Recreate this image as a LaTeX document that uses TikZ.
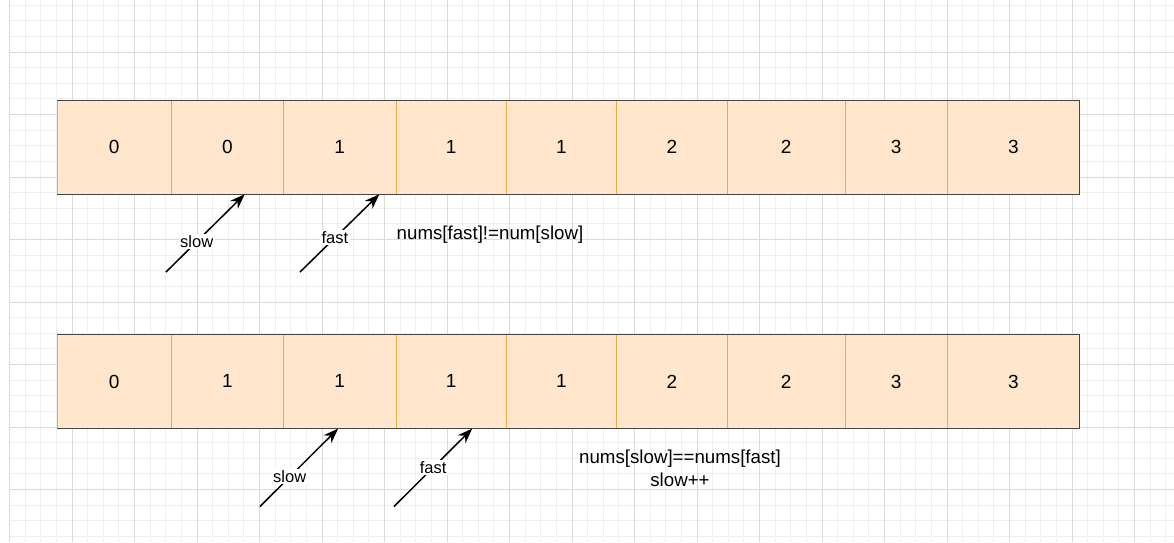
\documentclass[tikz,border=0pt]{standalone}
\usepackage{fontspec}
\setmainfont{Liberation Sans}
\usetikzlibrary{positioning, arrows.meta}

\definecolor{cellfill}{HTML}{FFE6CC}
\definecolor{celledge}{HTML}{E9B040}
\definecolor{frameedge}{HTML}{454545}
\definecolor{gridminor}{HTML}{EFEFEF}
\definecolor{gridmajor}{HTML}{DADADA}

\begin{document}
\begin{tikzpicture}[
  x=1pt, y=-1pt,
  cell/.style={rectangle, draw=celledge, fill=cellfill, line width=1pt,
    minimum height=94.3pt, inner sep=0pt, outer sep=0pt,
    font=\fontsize{19}{22}\selectfont},
  ptr/.style={-{Stealth[length=15pt, width=11pt]}, line width=1.5pt},
  ptrlabel/.style={fill=white, inner sep=1.5pt, font=\fontsize{16.5}{20}\selectfont},
  note/.style={align=center, font=\fontsize{18.7}{23}\selectfont},
  node distance=0pt
]
\fill[white] (0,0) rectangle (1174,542);
\useasboundingbox (0,0) rectangle (1174,542);

% background grid
\foreach \gx in {0,...,74}
  \draw[gridminor, line width=0.8pt] ({9.5+15.625*\gx},0) -- ({9.5+15.625*\gx},542);
\foreach \gy in {0,...,34}
  \draw[gridminor, line width=0.8pt] (9.5,{5.125+15.625*\gy}) -- (1174,{5.125+15.625*\gy});
\foreach \gx in {0,...,18}
  \draw[gridmajor, line width=0.8pt] ({9.5+62.5*\gx},0) -- ({9.5+62.5*\gx},542);
\foreach \gy in {0,...,7}
  \draw[gridmajor, line width=0.8pt] (9.5,{52+62.5*\gy}) -- (1174,{52+62.5*\gy});

% first array
\node[cell, minimum width=114.5pt, anchor=north west] (a1) at (57,100) {0};
\node[cell, minimum width=112pt, right=of a1] (a2) {0};
\node[cell, minimum width=112.5pt, right=of a2] (a3) {1};
\node[cell, minimum width=110.5pt, right=of a3] (a4) {1};
\node[cell, minimum width=110pt, right=of a4] (a5) {1};
\node[cell, minimum width=111pt, right=of a5] (a6) {2};
\node[cell, minimum width=117.5pt, right=of a6] (a7) {2};
\node[cell, minimum width=102.5pt, right=of a7] (a8) {3};
\node[cell, minimum width=131.8pt, right=of a8] (a9) {3};
\draw[frameedge, line width=1pt] (a1.north west) -- (a9.north east)
  -- (a9.south east) -- (a1.south west);

% second array
\node[cell, minimum width=114.5pt, below=140pt of a1] (b1) {0};
\node[cell, minimum width=112pt, right=of b1] (b2) {1};
\node[cell, minimum width=112.5pt, right=of b2] (b3) {1};
\node[cell, minimum width=110.5pt, right=of b3] (b4) {1};
\node[cell, minimum width=110pt, right=of b4] (b5) {1};
\node[cell, minimum width=111pt, right=of b5] (b6) {2};
\node[cell, minimum width=117.5pt, right=of b6] (b7) {2};
\node[cell, minimum width=102.5pt, right=of b7] (b8) {3};
\node[cell, minimum width=131.8pt, right=of b8] (b9) {3};
\draw[frameedge, line width=1pt] (b1.north west) -- (b9.north east)
  -- (b9.south east) -- (b1.south west);

% pointers
\coordinate (slowtail1) at (166,272);
\coordinate (fasttail1) at (300,272);
\coordinate (slowtail2) at (260,506.5);
\coordinate (fasttail2) at (394,506.5);

\draw[ptr] (slowtail1) -- node[ptrlabel, pos=0.39] (slowlbl1) {slow} (a2.-70.7);
\draw[ptr] (fasttail1) -- node[ptrlabel, pos=0.44] (fastlbl1) {fast} (a3.-50.9);
\draw[ptr] (slowtail2) -- node[ptrlabel, pos=0.38] (slowlbl2) {slow} (b3.-92);
\draw[ptr] (fasttail2) -- node[ptrlabel, pos=0.5] (fastlbl2) {fast} (b4.-66.2);

% conditions
\node[note] (cond1) at (490,235) {nums[fast]!=num[slow]};
\node[note] (cond2) at (680,468) {nums[slow]==nums[fast]\\slow++};
\end{tikzpicture}
\end{document}
